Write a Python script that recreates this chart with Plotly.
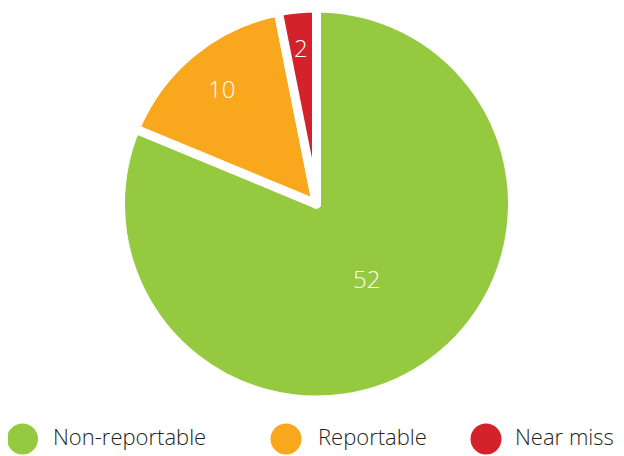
import math
import plotly.graph_objects as go

# ---- data ----
categories = ["Non-reportable", "Reportable", "Near miss"]
values = [52, 10, 2]
colors = ["#94C940", "#F9A71C", "#D3222A"]

# ---- styling / layout (figure pixels) ----
W, H = 624, 456
OFF = 8                     # page body margin compensation
CX, CY = 316.5 - OFF, 204 - OFF   # pie centre (from top-left)
R = 196                     # geometric pie radius
LINE_W = 9
label_radial_frac = [0.47, 0.78, 0.82]
legend_marker_x = [22.5 - OFF, 286 - OFF, 486 - OFF]
legend_text_x = [53 - OFF, 318 - OFF, 515 - OFF]
legend_y = H - (439 - OFF)

FONT = "Open Sans"

fig = go.Figure()

fig.add_trace(go.Pie(
    labels=categories,
    values=values,
    sort=False,
    direction="clockwise",
    rotation=0,
    marker=dict(colors=colors, line=dict(color="white", width=LINE_W)),
    textinfo="none",
    hoverinfo="label+value",
    showlegend=False,
    domain=dict(x=[(CX - R) / W, (CX + R) / W],
                y=[(H - CY - R) / H, min(1.0, (H - CY + R) / H)]),
))

# value labels placed at each slice's mid-angle (computed from the data)
total = sum(values)
cum = 0
r_vis = R - LINE_W / 2
for v, frac in zip(values, label_radial_frac):
    mid = (cum + v / 2) / total * 2 * math.pi
    cum += v
    px = CX + math.sin(mid) * r_vis * frac
    py = CY - math.cos(mid) * r_vis * frac
    fig.add_annotation(
        x=px / W, y=(H - py) / H, xref="paper", yref="paper",
        text=str(v), showarrow=False, xanchor="center", yanchor="middle",
        font=dict(color="white", size=24, family=FONT, weight=300),
    )

# legend drawn as markers + text on hidden axes
fig.add_trace(go.Scatter(
    x=legend_marker_x, y=[legend_y] * len(categories),
    mode="markers",
    marker=dict(size=31, color=colors),
    hoverinfo="skip", showlegend=False, cliponaxis=False,
))
fig.add_trace(go.Scatter(
    x=legend_text_x, y=[legend_y] * len(categories),
    mode="text", text=categories, textposition="middle right",
    textfont=dict(size=22, color="#231F20", family=FONT, weight=300),
    hoverinfo="skip", showlegend=False, cliponaxis=False,
))

fig.update_layout(
    width=W, height=H,
    margin=dict(l=0, r=0, t=0, b=0),
    paper_bgcolor="white", plot_bgcolor="white",
    xaxis=dict(range=[0, W], visible=False, fixedrange=True),
    yaxis=dict(range=[0, H], visible=False, fixedrange=True),
    showlegend=False,
)

fig.write_html("out.html")
